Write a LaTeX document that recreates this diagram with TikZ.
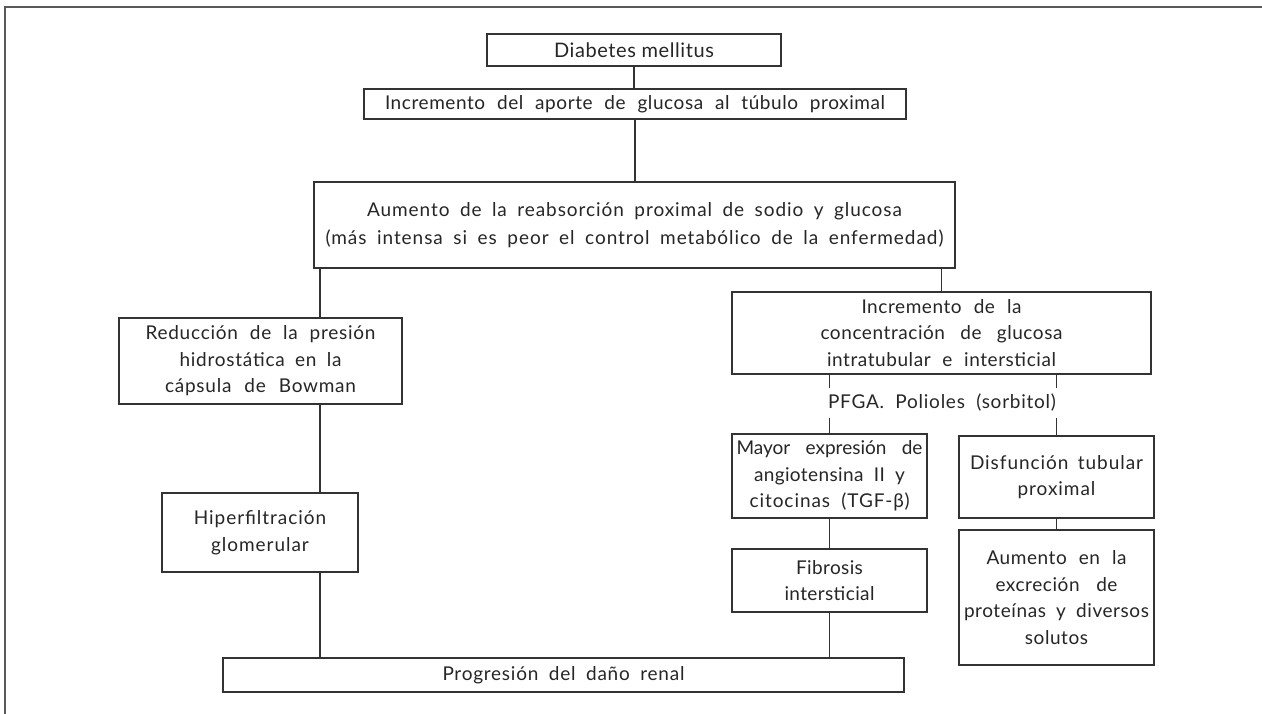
\documentclass[tikz,border=0pt]{standalone}
\usepackage{fontspec}
\setmainfont{Lato}
\newcommand\jline[2]{\makebox[#1pt][s]{#2}}
\begin{document}
\begin{tikzpicture}[x=1pt,y=-1pt,
  box/.style={draw=black!80,line width=1.3pt,fill=white,inner sep=0pt,align=center,text=black!85},
  track/.style={font={\fontsize{19}{26.5}\selectfont\addfontfeature{LetterSpace=#1}}},
  track/.default=0,
  conn/.style={draw=black!80,line width=1.1pt},
  frame/.style={draw=black!65,line width=2pt},
  lbl/.style={inner sep=0pt,text=black!85,minimum height=30pt}]
\useasboundingbox (0,0) rectangle (1262,714);
% frame
\coordinate (fr) at (5,7);
\draw[frame] (1262,7) -- (fr) -- (5,714);
% nodes
\node[box,font={\fontsize{20}{26.5}\selectfont\addfontfeature{LetterSpace=3}},minimum width=294pt,minimum height=32pt] (dm) at (634,50) {\jline{160}{Diabetes mellitus}};
\node[box,track=3,minimum width=542pt,minimum height=30pt] (inc) at (635,104) {\jline{500}{Incremento del aporte de glucosa al túbulo proximal}};
\node[box,font={\fontsize{19}{28}\selectfont\addfontfeature{LetterSpace=5}},minimum width=641pt,minimum height=86pt] (aum) at (634.5,225) {\jline{535}{Aumento de la reabsorción proximal de sodio y glucosa}\\\jline{618}{(más intensa si es peor el control metabólico de la enfermedad)}};
\node[box,track=4,minimum width=283pt,minimum height=86pt] (red) at (260.5,361) {\jline{230}{Reducción de la presión}\\\jline{162}{hidrostática en la}\\\jline{191}{cápsula de Bowman}};
\node[box,track=5,minimum width=196pt,minimum height=79pt] (hip) at (260,532.5) {Hiperfiltración\\glomerular};
\node[box,track=4,minimum width=681pt,minimum height=34pt] (prog) at (563.5,675) {\jline{242}{Progresión del daño renal}};
\node[box,track=3,minimum width=419pt,minimum height=82pt] (conc) at (941.5,333) {\jline{160}{Incremento de la}\\\jline{242}{concentración de glucosa}\\\jline{229}{intratubular e intersticial}};
\node[lbl,track=4] (pfga) at (942,403) {\jline{228}{PFGA. Polioles (sorbitol)}};
\node[box,track=0,minimum width=195pt,minimum height=84pt] (may) at (829.5,476) {\jline{186}{Mayor expresión de}\\\jline{151}{\addfontfeature{LetterSpace=2}angiotensina II y}\\\jline{160}{\addfontfeature{LetterSpace=5}citocinas (TGF-β)}};
\node[box,track=2,minimum width=195pt,minimum height=63pt] (fib) at (829.5,580.5) {Fibrosis\\intersticial};
\node[box,track=5,minimum width=195pt,minimum height=82pt] (dis) at (1056.5,477) {\jline{173}{Disfunción tubular}\\proximal};
\node[box,track=3,minimum width=195pt,minimum height=135pt] (aen) at (1056.5,597.5) {\jline{140}{Aumento en la}\\\jline{122}{excreción de}\\\jline{185}{proteínas y diversos}\\solutos};
% connectors
\coordinate (lx) at (320,0);
\draw[conn] (dm.south) -- (dm.south |- inc.north);
\draw[conn] (inc.south) -- (inc.south |- aum.north);
\draw[conn] (lx |- aum.south) -- (lx |- red.north);
\draw[conn] (lx |- red.south) -- (lx |- hip.north);
\draw[conn] (lx |- hip.south) -- (lx |- prog.north);
\draw[conn] (conc.north |- aum.south) -- (conc.north);
\draw[conn] (may.north |- conc.south) -- (may.north |- pfga.north);
\draw[conn] (may.north |- pfga.south) -- (may.north);
\draw[conn] (dis.north |- conc.south) -- (dis.north |- pfga.north);
\draw[conn] (dis.north |- pfga.south) -- (dis.north);
\draw[conn] (may.south) -- (fib.north);
\draw[conn] (fib.south) -- (fib.south |- prog.north);
\draw[conn] (dis.south) -- (aen.north);
\end{tikzpicture}
\end{document}
